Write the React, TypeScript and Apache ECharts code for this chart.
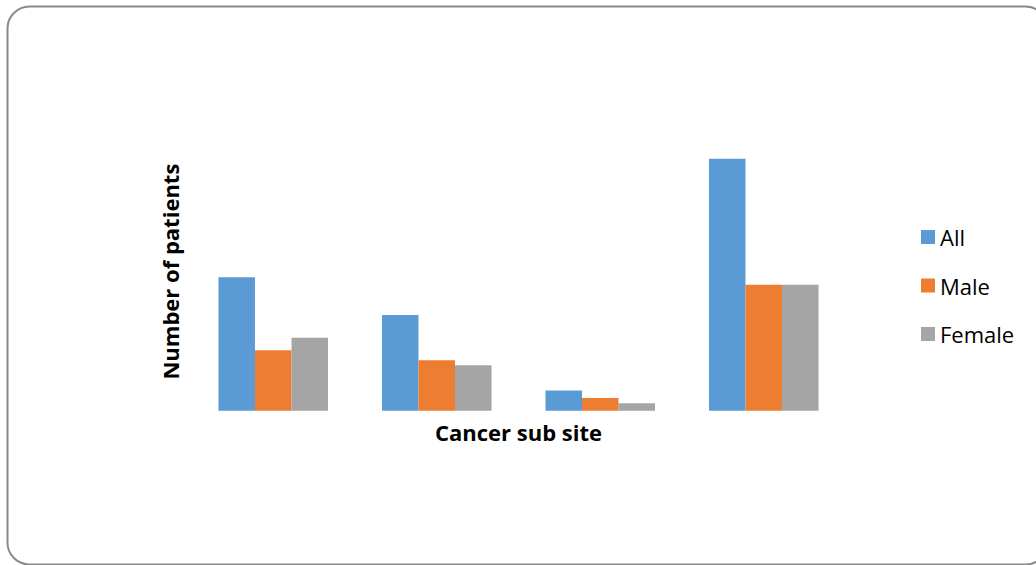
import React, { useEffect, useRef } from "react";
import * as echarts from "echarts";

const categories = ["Site 1", "Site 2", "Site 3", "Site 4"];
const allValues = [53, 38, 8, 100];
const maleValues = [24, 20, 5, 50];
const femaleValues = [29, 18, 3, 50];
const seriesNames = ["All", "Male", "Female"];
const colors = ["#5B9BD5", "#ED7D31", "#A5A5A5"];

export default function App() {
  const ref = useRef<HTMLDivElement>(null);
  useEffect(() => {
    document.body.style.margin = "0";
    const chart = echarts.init(ref.current!, null, { renderer: "svg" });
    const data = [allValues, maleValues, femaleValues];
    chart.setOption({
      animation: false,
      textStyle: { fontFamily: "Open Sans" },
      graphic: [
        {
          type: "rect",
          shape: { x: 7.5, y: 6.5, width: 1040, height: 558, r: 22 },
          style: { fill: "none", stroke: "#8a8a8a", lineWidth: 2 },
          silent: true,
        },
      ],
      grid: { left: 191.5, right: 190.5, top: 108.5, bottom: 154.3 },
      legend: {
        orient: "vertical",
        left: 916,
        top: 221,
        itemWidth: 14,
        itemHeight: 14,
        itemGap: 26.5,
        icon: "rect",
        textStyle: { fontSize: 22, color: "#000", fontFamily: "Open Sans" },
        data: seriesNames,
      },
      xAxis: {
        type: "category",
        data: categories,
        axisLine: { show: false },
        axisTick: { show: false },
        axisLabel: { show: false },
        name: "Cancer sub site",
        nameLocation: "middle",
        nameGap: 10,
        nameTextStyle: { fontSize: 22, fontWeight: "bold", color: "#000", fontFamily: "Open Sans" },
      },
      yAxis: {
        type: "value",
        min: 0,
        max: 120,
        axisLine: { show: false },
        axisTick: { show: false },
        axisLabel: { show: false },
        splitLine: { show: false },
        name: "Number of patients",
        nameLocation: "middle",
        nameGap: 11,
        nameTextStyle: {
          fontSize: 22,
          fontWeight: "bold",
          color: "#000",
          fontFamily: "Open Sans",
          padding: [0, 24, 0, 0],
        },
      },
      series: seriesNames.map((n, i) => ({
        name: n,
        type: "bar",
        data: data[i],
        barGap: "0%",
        barCategoryGap: "33%",
        itemStyle: { color: colors[i] },
      })),
    });
    return () => chart.dispose();
  }, []);
  return <div ref={ref} style={{ width: 1036, height: 565 }} />;
}
